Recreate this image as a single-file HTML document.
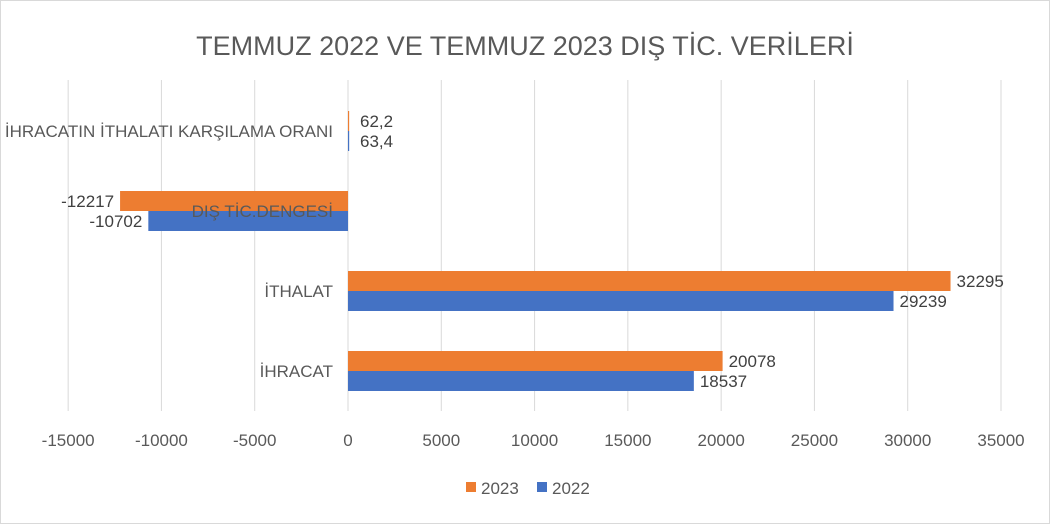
<!DOCTYPE html>
<html><head><meta charset="utf-8"><style>
body{margin:0;background:#fff;}
svg{display:block;font-family:"Liberation Sans",sans-serif;}
</style></head><body>
<svg id="chart" width="1050" height="524">
<rect x="0.5" y="0.5" width="1049" height="523" fill="#fff" stroke="#d9d9d9"/>
<text x="525" y="55" text-anchor="middle" font-size="27" fill="#595959">TEMMUZ 2022 VE TEMMUZ 2023 DIŞ TİC. VERİLERİ</text>
<g id="grid"></g><g id="bars"></g><g id="labels"></g>
<g>
<rect x="466" y="482" width="10" height="10" fill="#ed7d31"/>
<text x="481" y="494" font-size="17" fill="#595959">2023</text>
<rect x="537" y="482" width="10" height="10" fill="#4472c4"/>
<text x="552" y="494" font-size="17" fill="#595959">2022</text>
</g>
</svg>
<script>
const categories=["İHRACAT","İTHALAT","DIŞ TİC.DENGESİ","İHRACATIN İTHALATI KARŞILAMA ORANI"];
const values2023=[20078,32295,-12217,62.2];
const values2022=[18537,29239,-10702,63.4];
const labels2023=["20078","32295","-12217","62,2"];
const labels2022=["18537","29239","-10702","63,4"];
const ticks=[-15000,-10000,-5000,0,5000,10000,15000,20000,25000,30000,35000];
const NS="http://www.w3.org/2000/svg";
const x0=348,pxPer=653/35000,plotTop=91,band=80;
function X(v){return x0+v*pxPer;}
function bandY(i){return plotTop+(categories.length-1-i)*band;}
function mk(tag,attrs,parent,txt){const e=document.createElementNS(NS,tag);for(const k in attrs)e.setAttribute(k,attrs[k]);if(txt!==undefined)e.textContent=txt;document.getElementById(parent).appendChild(e);return e;}
ticks.forEach(t=>{
 const l=mk('line',{x1:X(t),x2:X(t),y1:80,y2:411,stroke:'#d9d9d9','stroke-width':1},'grid');
 
 
 const tx=mk('text',{x:X(t),y:446,'text-anchor':'middle','font-size':17,fill:'#595959'},'labels',String(t));
 
 
});
categories.forEach((c,i)=>{
 const yc=bandY(i)+band/2;
 [[values2023[i],labels2023[i],'#ed7d31',yc-20,'2023'],[values2022[i],labels2022[i],'#4472c4',yc,'2022']].forEach(([v,lab,col,y,s])=>{
  const a=Math.min(X(0),X(v)),w=Math.abs(X(v)-X(0));
  const r=mk('rect',{x:a,y:y,width:w,height:20,fill:col},'bars');
  
  
  const lx=v>=0?X(v)+6:X(v)-6;
  const t=mk('text',{x:lx,y:y+16,'text-anchor':v>=0?'start':'end','font-size':17,fill:'#404040'},'labels',lab);
  if(v>=0&&v<1000){t.setAttribute('x',X(0)+12);}
  
  
 });
 const cl=mk('text',{x:333,y:yc+6,'text-anchor':'end','font-size':17,fill:'#595959'},'labels',c);
 
 
});
</script>
</body></html>
